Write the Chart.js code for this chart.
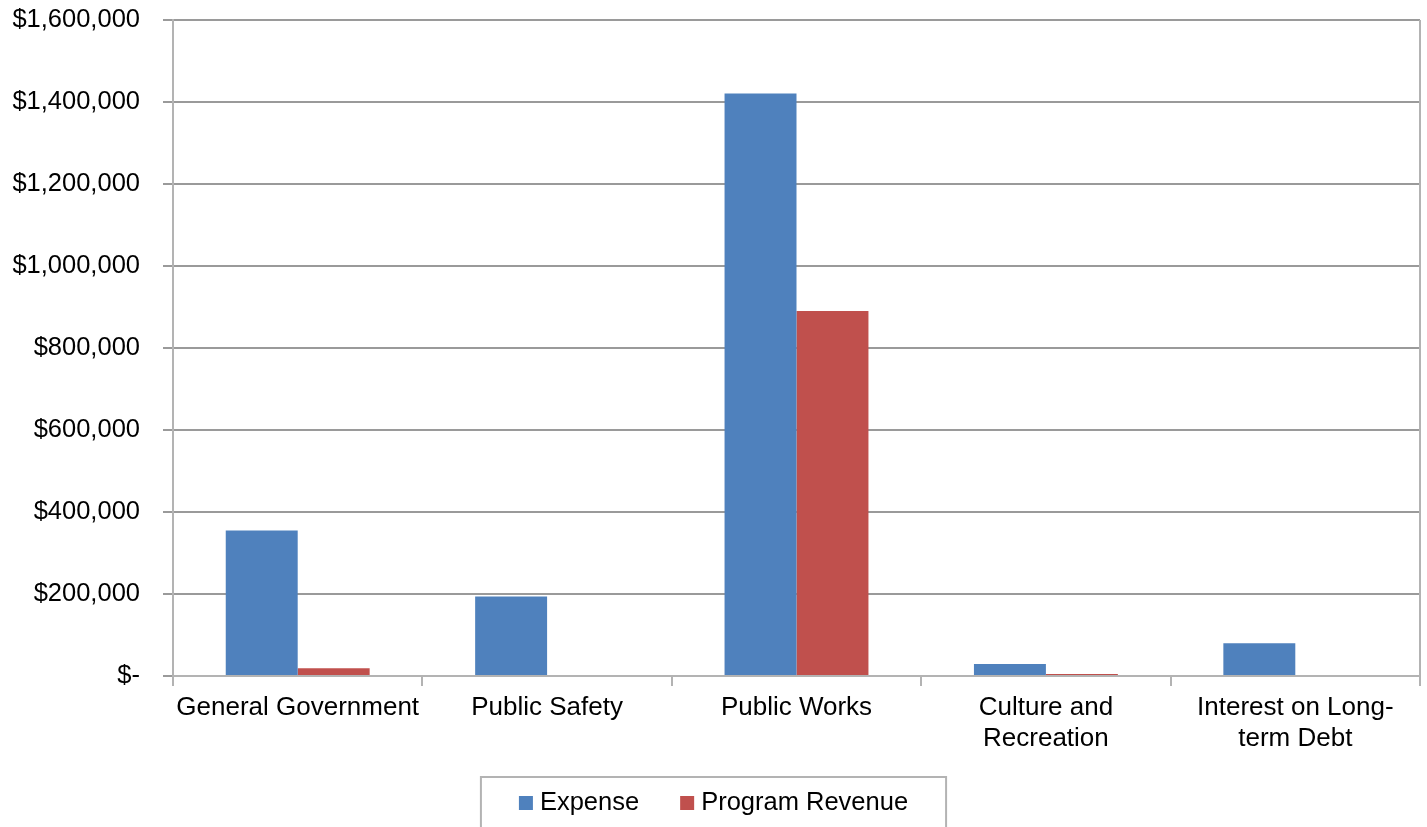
<!DOCTYPE html>
<html>
<head>
<meta charset="utf-8">
<script src="https://cdn.jsdelivr.net/npm/chart.js@4.4.1/dist/chart.umd.min.js"></script>
<style>
html,body{margin:0;padding:0;background:#fff;}
#wrap{width:1427px;height:827px;position:relative;}
</style>
</head>
<body>
<div id="wrap"><canvas id="c" width="1427" height="827"></canvas></div>
<script>
const categories = [
  'General Government',
  'Public Safety',
  'Public Works',
  ['Culture and', 'Recreation'],
  ['Interest on Long-', 'term Debt']
];
const expense = [355000, 194000, 1421000, 29000, 80000];
const programRevenue = [19000, 0, 890000, 5000, 0];
const yTicks = [0, 200000, 400000, 600000, 800000, 1000000, 1200000, 1400000, 1600000];

const FONT = '"Liberation Sans", Arial, sans-serif';
const GRID = '#9a9a9a';
const AXIS = '#b3b3b3';

const frame = {
  id: 'frame',
  afterDraw(chart) {
    const ctx = chart.ctx, a = chart.chartArea;
    ctx.save();
    ctx.strokeStyle = AXIS;
    ctx.lineWidth = 2;
    ctx.beginPath();
    ctx.moveTo(a.right, a.top);
    ctx.lineTo(a.right, a.bottom + 10);
    ctx.stroke();
    // legend
    ctx.font = '25.5px ' + FONT;
    ctx.textBaseline = 'middle';
    const ds = chart.data.datasets;
    const sq = 14, gapT = 7, gapItem = 41, padX = 38;
    let total = 0;
    const widths = ds.map(d => ctx.measureText(d.label).width);
    widths.forEach((w, i) => { total += sq + gapT + w + (i < ds.length - 1 ? gapItem : 0); });
    const cx = chart.width / 2;
    const boxL = cx - total / 2 - padX, boxR = cx + total / 2 + padX;
    const top = 777;
    ctx.strokeStyle = '#b3b3b3';
    ctx.lineWidth = 2;
    ctx.strokeRect(boxL, top, boxR - boxL, 80);
    let x = cx - total / 2;
    const yMid = 803;
    ds.forEach((d, i) => {
      ctx.fillStyle = d.backgroundColor;
      ctx.fillRect(x, yMid - sq / 2, sq, sq);
      x += sq + gapT;
      ctx.fillStyle = '#000';
      ctx.textAlign = 'left';
      ctx.fillText(d.label, x, yMid);
      x += widths[i] + gapItem;
    });
    ctx.restore();
  }
};

new Chart(document.getElementById('c'), {
  type: 'bar',
  data: {
    labels: categories,
    datasets: [
      { label: 'Expense', data: expense, backgroundColor: '#4F81BD', borderWidth: 0 },
      { label: 'Program Revenue', data: programRevenue, backgroundColor: '#C0504D', borderWidth: 0 }
    ]
  },
  options: {
    responsive: false,
    animation: false,
    layout: { padding: { left: 0, right: 7, top: 20, bottom: 50 } },
    plugins: { legend: { display: false }, tooltip: { enabled: false } },
    datasets: { bar: { categoryPercentage: 0.577, barPercentage: 1.0 } },
    scales: {
      x: {
        grid: { offset: true, drawOnChartArea: false, drawTicks: true, tickLength: 10, color: AXIS, lineWidth: 2 },
        border: { display: true, color: AXIS, width: 2 },
        ticks: { color: '#000', font: { family: FONT, size: 26, lineHeight: 1.2 }, padding: 6, maxRotation: 0, autoSkip: false },
        afterFit(s) { s.height = 101; s.paddingLeft = 0; s.paddingRight = 0; }
      },
      y: {
        min: 0, max: 1600000,
        afterBuildTicks(s) { s.ticks = yTicks.map(v => ({ value: v })); },
        grid: { color: GRID, lineWidth: 2, drawTicks: true, tickLength: 10 },
        border: { display: true, color: AXIS, width: 2 },
        ticks: {
          color: '#000', font: { family: FONT, size: 25.5 }, padding: 23,
          callback: v => v === 0 ? '$-' : '$' + v.toLocaleString('en-US')
        },
        afterFit(s) { s.width = 173; s.paddingTop = 0; s.paddingBottom = 0; }
      }
    }
  },
  plugins: [frame]
});
</script>
</body>
</html>
